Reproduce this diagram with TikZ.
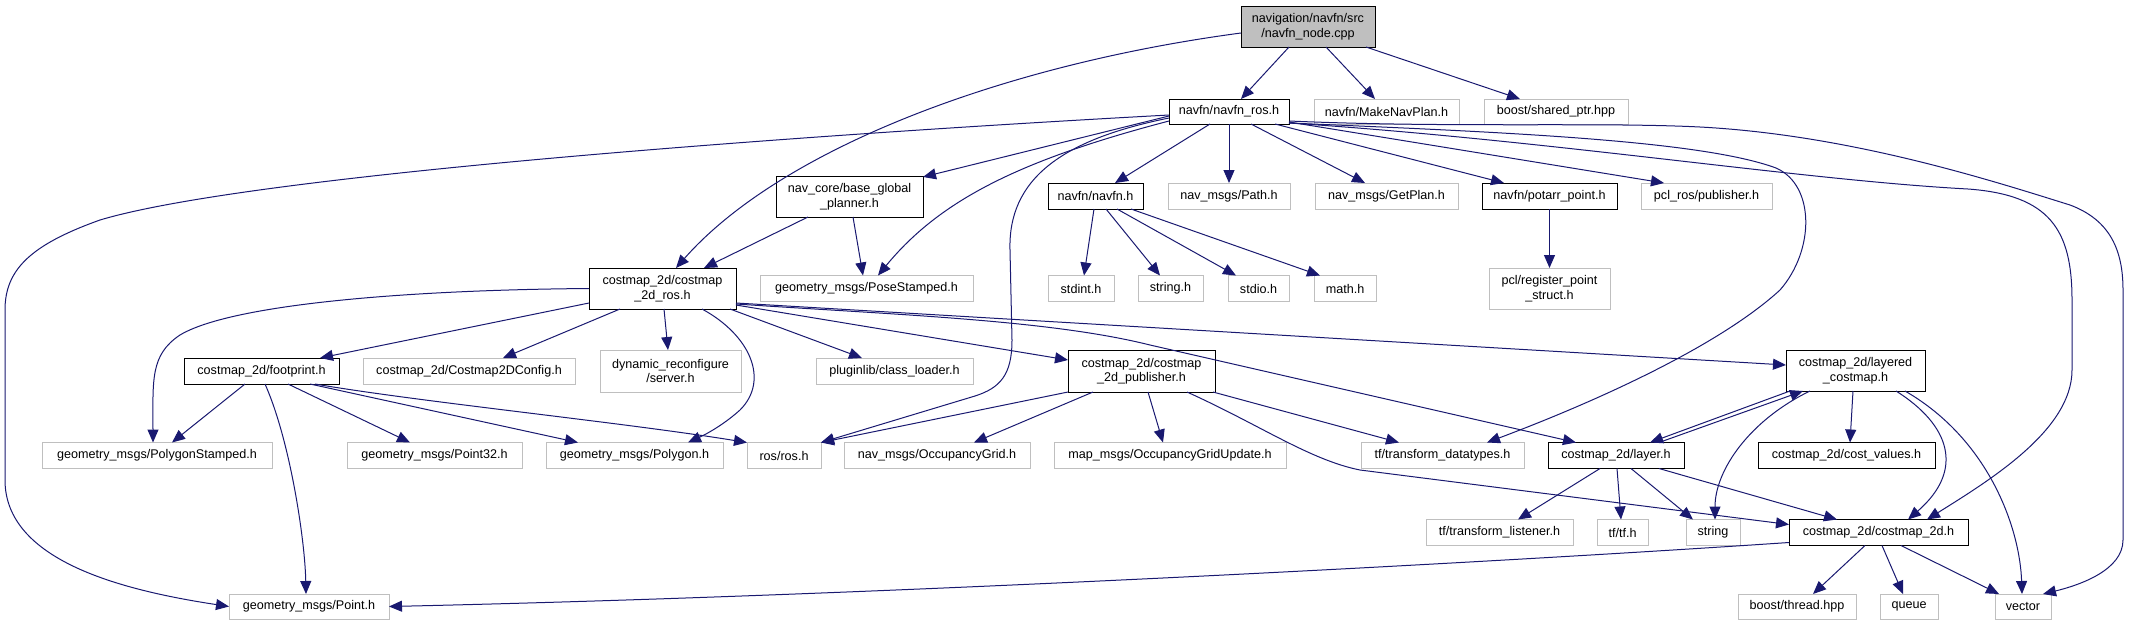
\documentclass[tikz,border=0pt]{standalone}
\usepackage{fontspec}
\setmainfont{Liberation Sans}
\usetikzlibrary{arrows.meta}
\definecolor{edgec}{HTML}{191970}
\definecolor{gbd}{HTML}{BFBFBF}
\newcommand{\nfont}{\fontsize{12.6}{14.5}\selectfont}
\begin{document}
\begin{tikzpicture}[x=1pt,y=-1pt,
  nb/.style={draw=black, line width=1pt, inner sep=0pt, outer sep=0pt, align=center, font=\nfont, minimum height=26pt},
  gb/.style={nb, draw=gbd},
  dep/.style={draw=edgec, line width=1pt, -{Triangle[length=13pt,width=11pt]}}]
\useasboundingbox (0,0) rectangle (2129,619);
% nodes
\node[nb, fill=gbd, minimum width=134pt, minimum height=41pt] (root) at (1308,26.5) {navigation/navfn/src\\/navfn\_node.cpp};
\node[nb, minimum width=120pt, minimum height=25pt] (navros) at (1229,111.5) {navfn/navfn\_ros.h};
\node[gb, minimum width=145pt, minimum height=25pt] (mknav) at (1386.5,111.5) {navfn/MakeNavPlan.h};
\node[gb, minimum width=144pt, minimum height=25pt] (shptr) at (1556,111.5) {boost/shared\_ptr.hpp};
\node[nb, minimum width=147pt, minimum height=41pt] (bgp) at (849.5,196.5) {nav\_core/base\_global\\\_planner.h};
\node[nb, minimum width=95pt] (navfn) at (1095.5,196) {navfn/navfn.h};
\node[gb, minimum width=122pt] (path) at (1229,196) {nav\_msgs/Path.h};
\node[gb, minimum width=143pt] (getplan) at (1386.5,196) {nav\_msgs/GetPlan.h};
\node[nb, minimum width=135pt] (potarr) at (1549.5,196) {navfn/potarr\_point.h};
\node[gb, minimum width=131pt] (pclpub) at (1706.5,196) {pcl\_ros/publisher.h};
\node[nb, minimum width=147pt, minimum height=41pt] (c2dros) at (662.5,288.5) {costmap\_2d/costmap\\\_2d\_ros.h};
\node[gb, minimum width=213pt] (pose) at (866.5,288.5) {geometry\_msgs/PoseStamped.h};
\node[gb, minimum width=66pt] (stdint) at (1081,288.5) {stdint.h};
\node[gb, minimum width=65pt] (stringh) at (1170.5,288.5) {string.h};
\node[gb, minimum width=61pt] (stdio) at (1258.5,288.5) {stdio.h};
\node[gb, minimum width=62pt] (math) at (1345,288.5) {math.h};
\node[gb, minimum width=121pt, minimum height=41pt] (regpt) at (1549.5,288.5) {pcl/register\_point\\\_struct.h};
\node[nb, minimum width=155pt] (footprint) at (261.5,371) {costmap\_2d/footprint.h};
\node[gb, minimum width=212pt] (config) at (469,371) {costmap\_2d/Costmap2DConfig.h};
\node[gb, minimum width=141pt, minimum height=42pt] (dynrec) at (670.5,371) {dynamic\_reconfigure\\/server.h};
\node[gb, minimum width=157pt] (plugin) at (894.5,371) {pluginlib/class\_loader.h};
\node[nb, minimum width=147pt, minimum height=42pt] (pub) at (1141.5,371) {costmap\_2d/costmap\\\_2d\_publisher.h};
\node[nb, minimum width=139pt, minimum height=41pt] (layered) at (1855.5,370.5) {costmap\_2d/layered\\\_costmap.h};
\node[gb, minimum width=230pt] (polyst) at (157,455.5) {geometry\_msgs/PolygonStamped.h};
\node[gb, minimum width=175pt] (pt32) at (434.5,455.5) {geometry\_msgs/Point32.h};
\node[gb, minimum width=177pt] (polygon) at (634.5,455.5) {geometry\_msgs/Polygon.h};
\node[gb, minimum width=74pt] (rosh) at (784,455.5) {ros/ros.h};
\node[gb, minimum width=186pt] (occ) at (937,455.5) {nav\_msgs/OccupancyGrid.h};
\node[gb, minimum width=232pt] (occupd) at (1170,455.5) {map\_msgs/OccupancyGridUpdate.h};
\node[gb, minimum width=163pt] (tfdt) at (1442.5,455.5) {tf/transform\_datatypes.h};
\node[nb, minimum width=136pt] (layer) at (1616,455.5) {costmap\_2d/layer.h};
\node[nb, minimum width=177pt] (costval) at (1846.5,455.5) {costmap\_2d/cost\_values.h};
\node[gb, minimum width=147pt] (tflist) at (1499.5,532.5) {tf/transform\_listener.h};
\node[gb, minimum width=51pt] (tftf) at (1622.5,532.5) {tf/tf.h};
\node[gb, minimum width=54pt] (string) at (1713,532.5) {string};
\node[nb, minimum width=179pt] (c2d) at (1878.5,532.5) {costmap\_2d/costmap\_2d.h};
\node[gb, minimum width=160pt, minimum height=25pt] (point) at (309,606.5) {geometry\_msgs/Point.h};
\node[gb, minimum width=118pt, minimum height=25pt] (thread) at (1797,606.5) {boost/thread.hpp};
\node[gb, minimum width=58pt, minimum height=25pt] (queue) at (1909,606.5) {queue};
\node[gb, minimum width=56pt, minimum height=25pt] (vector) at (2023,606.5) {vector};
% edges from root
\draw[dep] ([xshift=-19pt]root.south) -- ([xshift=12pt]navros.north);
\draw[dep] ([xshift=18pt]root.south) -- ([xshift=-11.5pt]mknav.north);
\draw[dep] ([xshift=58pt]root.south) -- ([xshift=-36pt]shptr.north);
\draw[dep] ([yshift=-6.5pt]root.west) .. controls (1000,65) and (780,150) .. ([xshift=13.5pt]c2dros.north);
% edges from navfn_ros
\draw[dep] ([xshift=-19pt]navros.south) -- ([xshift=19.5pt]navfn.north);
\draw[dep] (navros.south) -- (path.north);
\draw[dep] ([xshift=22pt]navros.south) -- ([xshift=-21.5pt]getplan.north);
\draw[dep] ([xshift=46pt]navros.south) -- ([xshift=-45.5pt]potarr.north);
\draw[dep] ([yshift=2pt]navros.south east) -- ([xshift=-42.5pt]pclpub.north);
\draw[dep] ([yshift=-4.5pt]navros.west) -- ([yshift=-1pt]bgp.north east);
\draw[dep] ([yshift=3pt]navros.south west) .. controls (1020,160) and (940,200) .. ([xshift=11.5pt]pose.north);
\draw[dep] ([yshift=-6.5pt]navros.west) .. controls (1060,140) and (1008,180) .. (1010,250) -- (1012,340) .. controls (1012,375) and (1000,388) .. (975,396) -- (rosh.north east);
\draw[dep] ([yshift=-3.5pt]navros.west) .. controls (800,135) and (250,175) .. (100,220) .. controls (30,245) and (5,270) .. (5,310) -- (5,480) .. controls (5,560) and (120,590) .. (point.west);
\draw[dep] ([yshift=1pt]navros.south east) .. controls (1500,132) and (1700,140) .. (1776,168) .. controls (1815,185) and (1815,250) .. (1780,290) .. controls (1720,345) and (1600,400) .. ([xshift=44.5pt]tfdt.north);
\draw[dep] ([yshift=1pt]navros.south east) .. controls (1550,140) and (1800,180) .. (1968,189) .. controls (2050,195) and (2072,230) .. (2072,300) -- (2072,370) .. controls (2072,430) and (1990,480) .. ([xshift=48.5pt]c2d.north);
\draw[dep] ([yshift=3pt]navros.south east) .. controls (1450,128) and (1600,122) .. (1700,127) .. controls (1850,135) and (1990,180) .. (2070,205) .. controls (2110,220) and (2123,250) .. (2123,290) -- (2123,540) .. controls (2123,570) and (2080,585) .. ([xshift=-8pt]vector.north east);
% base_global_planner
\draw[dep] ([xshift=-41.5pt]bgp.south) -- ([xshift=41.5pt]c2dros.north);
\draw[dep] ([xshift=3.5pt]bgp.south) -- ([xshift=-3.5pt]pose.north);
% navfn.h
\draw[dep] ([xshift=-1.5pt]navfn.south) -- ([xshift=3pt]stdint.north);
\draw[dep] ([xshift=10.5pt]navfn.south) -- ([xshift=-10.5pt]stringh.north);
\draw[dep] ([xshift=21.5pt]navfn.south) -- ([xshift=-22.5pt]stdio.north);
\draw[dep] ([xshift=35.5pt]navfn.south) -- ([xshift=-25pt]math.north);
% potarr
\draw[dep] (potarr.south) -- (regpt.north);
% costmap_2d_ros
\draw[dep] (c2dros.west) .. controls (400,290) and (230,305) .. (180,335) .. controls (150,355) and (153,380) .. ([xshift=-4pt]polyst.north);
\draw[dep] ([yshift=6pt]c2dros.south west) -- ([xshift=58.5pt]footprint.north);
\draw[dep] ([xshift=-42.5pt]c2dros.south) -- ([xshift=34pt]config.north);
\draw[dep] ([xshift=1.5pt]c2dros.south) -- ([xshift=-2.5pt]dynrec.north);
\draw[dep] ([xshift=39.5pt]c2dros.south) .. controls (750,335) and (770,380) .. (740,410) .. controls (720,428) and (700,437) .. ([xshift=53.5pt]polygon.north);
\draw[dep] ([xshift=67.5pt]c2dros.south) -- ([xshift=-32.5pt]plugin.north);
\draw[dep] ([yshift=4pt]c2dros.south east) -- ([yshift=11pt]pub.west);
\draw[dep] ([yshift=6pt]c2dros.south east) -- ([yshift=5.5pt]layered.west);
\draw[dep] ([yshift=5pt]c2dros.south east) .. controls (900,315) and (1050,320) .. (1150,345) -- ([xshift=-40pt]layer.north);
% footprint
\draw[dep] ([xshift=-16.5pt]footprint.south) -- ([xshift=15pt]polyst.north);
\draw[dep] ([xshift=3.5pt]footprint.south) .. controls (290,440) and (305,540) .. ([xshift=-3pt]point.north);
\draw[dep] ([xshift=26.5pt]footprint.south) -- ([xshift=-24.5pt]pt32.north);
\draw[dep] ([xshift=48.5pt]footprint.south) -- ([xshift=32pt]polygon.north west);
\draw[dep] ([xshift=53.5pt]footprint.south) .. controls (420,402) and (620,422) .. (rosh.north west);
% publisher
\draw[dep] (pub.south west) -- (rosh.north east);
\draw[dep] ([xshift=-48.5pt]pub.south) -- ([xshift=37pt]occ.north);
\draw[dep] ([xshift=6.5pt]pub.south) -- ([xshift=-7pt]occupd.north);
\draw[dep] ([xshift=71.5pt]pub.south) -- ([xshift=-43.5pt]tfdt.north);
\draw[dep] ([xshift=45.5pt]pub.south) .. controls (1260,425) and (1310,460) .. (1360,470) -- ([yshift=8pt]c2d.west);
% layered_costmap
\draw[dep] ([xshift=-65.5pt]layered.south) -- ([xshift=34pt]layer.north);
\draw[dep] ([xshift=-2.5pt]layered.south) -- ([xshift=3.5pt]costval.north);
\draw[dep] ([xshift=-45.5pt]layered.south) .. controls (1750,420) and (1715,470) .. ([xshift=2pt]string.north);
\draw[dep] ([xshift=40.5pt]layered.south) .. controls (1950,425) and (1965,470) .. ([xshift=29.5pt]c2d.north);
\draw[dep] ([xshift=49.5pt]layered.south) .. controls (1990,440) and (2020,530) .. ([xshift=-1pt]vector.north);
% layer
\draw[dep] ([xshift=43pt]layer.north) -- ([xshift=-52.5pt]layered.south);
\draw[dep] ([xshift=-16pt]layer.south) -- ([xshift=18.5pt]tflist.north);
\draw[dep] ([xshift=1pt]layer.south) -- ([xshift=-1.5pt]tftf.north);
\draw[dep] ([xshift=15pt]layer.south) -- ([xshift=-20pt]string.north);
\draw[dep] ([xshift=43pt]layer.south) -- ([xshift=-41.5pt]c2d.north);
% costmap_2d
\draw[dep] ([yshift=-10pt]c2d.west) .. controls (1500,562) and (900,595) .. (point.east);
\draw[dep] ([xshift=-13.5pt]c2d.south) -- ([xshift=16pt]thread.north);
\draw[dep] ([xshift=3.5pt]c2d.south) -- ([xshift=-6pt]queue.north);
\draw[dep] ([xshift=22.5pt]c2d.south) -- ([xshift=-24pt]vector.north);
\end{tikzpicture}
\end{document}
